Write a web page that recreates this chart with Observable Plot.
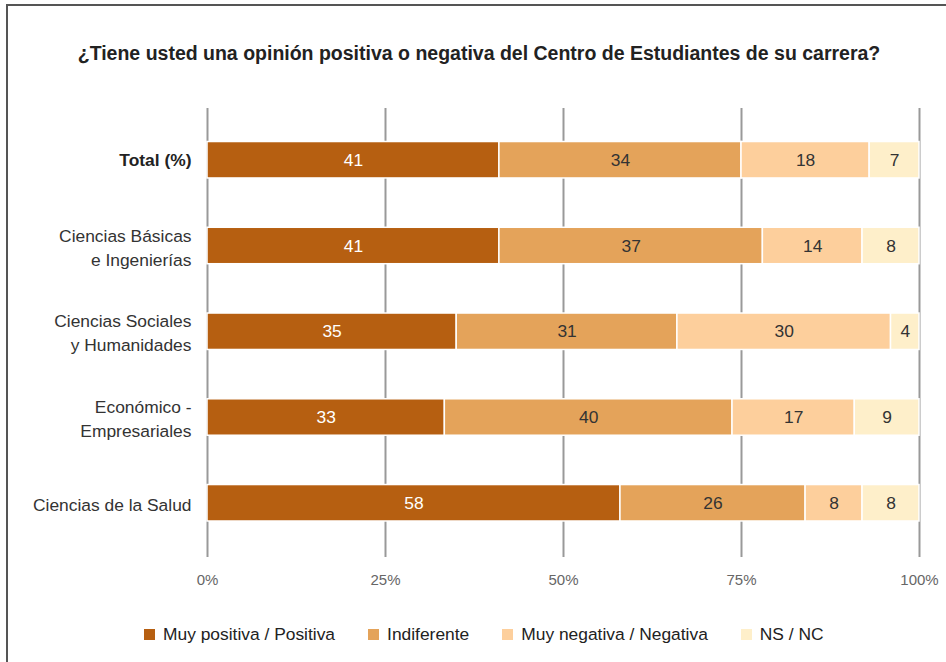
<!DOCTYPE html>
<html>
<head>
<meta charset="utf-8">
<script src="https://cdn.jsdelivr.net/npm/d3@7"></script>
<script src="https://cdn.jsdelivr.net/npm/@observablehq/plot@0.6"></script>
<style>
  html, body { margin: 0; padding: 0; background: #fff; }
  #page { position: relative; width: 946px; height: 662px; overflow: hidden; font-family: "Liberation Sans", Arial, sans-serif; }
  #frame { position: absolute; left: 6px; top: 4px; right: 0; bottom: 0; border-top: 2px solid #555; border-left: 2px solid #555; z-index: 5; pointer-events: none; }
  #title { position: absolute; left: 0; width: 958px; top: 42px; text-align: center; font-weight: bold; font-size: 19.5px; color: #222; }
  #chart { position: absolute; left: 0; top: 90px; }
  #legend { position: absolute; left: 144px; top: 624px; display: flex; align-items: center; font-size: 17.4px; color: #222; }
  .item { display: flex; align-items: center; margin-right: 33px; }
  .sw { width: 11px; height: 11px; margin-right: 8px; }
</style>
</head>
<body>
<div id="page">
  <div id="title">¿Tiene usted una opinión positiva o negativa del Centro de Estudiantes de su carrera?</div>
  <div id="chart"></div>
  <div id="legend"></div>
  <div id="frame"></div>
</div>
<script>
const categories = [
  "Total (%)",
  "Ciencias Básicas\ne Ingenierías",
  "Ciencias Sociales\ny Humanidades",
  "Económico -\nEmpresariales",
  "Ciencias de la Salud"
];
const responses = ["Muy positiva / Positiva", "Indiferente", "Muy negativa / Negativa", "NS / NC"];
const colors = ["#B65F11", "#E4A35A", "#FDCF9C", "#FEEFCA"];
const positiva    = [41, 41, 35, 33, 58];
const indiferente = [34, 37, 31, 40, 26];
const negativa    = [18, 14, 30, 17, 8];
const nsnc        = [7, 8, 4, 9, 8];
const tickValues = [0, 0.25, 0.5, 0.75, 1];

const series = [positiva, indiferente, negativa, nsnc];
const data = [];
categories.forEach((c, i) => {
  responses.forEach((r, j) => data.push({cat: c, resp: r, value: series[j][i]}));
});

const stackOpts = {x: "value", y: "cat", z: "resp", order: responses, offset: "normalize"};
const fmtPct = d3.format(".0%");

const chart = Plot.plot({
  width: 946,
  height: 510,
  marginLeft: 207,
  marginRight: 27,
  marginTop: 18,
  marginBottom: 43,
  style: {fontFamily: "'Liberation Sans', Arial, sans-serif", background: "transparent"},
  x: {domain: [0, 1], ticks: tickValues, tickFormat: fmtPct, label: null, axis: null},
  y: {domain: categories, paddingInner: 0.575, paddingOuter: 0.35, round: false, insetTop: 3.5, insetBottom: 6, axis: null},
  color: {domain: responses, range: colors},
  marks: [
    Plot.ruleX(tickValues, {stroke: "#999", strokeWidth: 2}),
    Plot.barX(data, Plot.stackX({...stackOpts, fill: "resp", stroke: "white", strokeWidth: 1.5})),
    Plot.text(data, Plot.stackX({...stackOpts, text: d => d.resp === responses[0] ? String(d.value) : null, fill: "white", fontSize: 17.4})),
    Plot.text(data, Plot.stackX({...stackOpts, text: d => d.resp !== responses[0] ? String(d.value) : null, fill: "#333", fontSize: 17.4})),
    Plot.text(categories.slice(0, 1), {y: d => d, text: d => d, frameAnchor: "left", textAnchor: "end", dx: -16, fontSize: 17.4, fontWeight: "bold", fill: "#222"}),
    Plot.text(categories.slice(1), {y: d => d, text: d => d, frameAnchor: "left", textAnchor: "end", dx: -16, fontSize: 17.4, lineHeight: 1.38, fill: "#333"}),
    Plot.axisX({ticks: tickValues, tickFormat: fmtPct, tickSize: 0, tickPadding: 17, fontSize: 15, fill: "#666", label: null})
  ]
});
document.getElementById("chart").appendChild(chart);

const legend = document.getElementById("legend");
responses.forEach((r, i) => {
  const item = document.createElement("div");
  item.className = "item";
  const sw = document.createElement("span");
  sw.className = "sw";
  sw.style.background = colors[i];
  const t = document.createElement("span");
  t.textContent = r;
  item.appendChild(sw);
  item.appendChild(t);
  legend.appendChild(item);
});
</script>
</body>
</html>
